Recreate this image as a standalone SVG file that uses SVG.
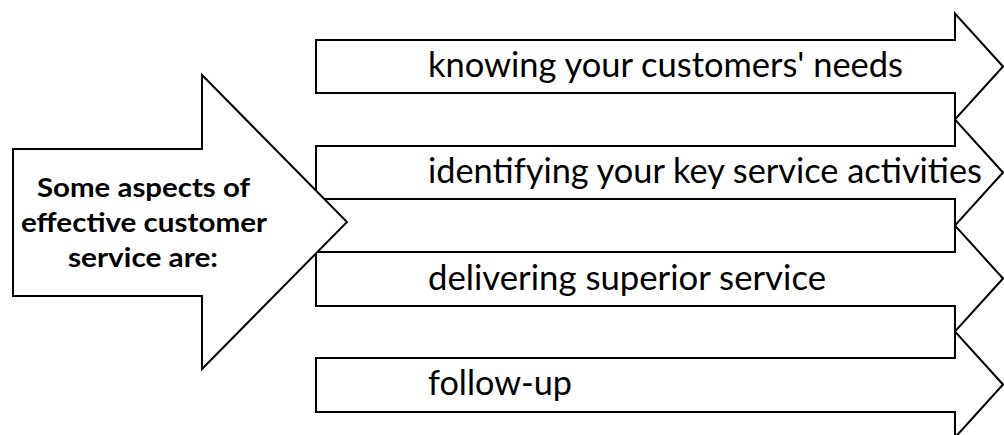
<svg xmlns="http://www.w3.org/2000/svg" width="1004" height="435" viewBox="0 0 1004 435">
  <style>
    .arrow { fill: #ffffff; stroke: #000000; stroke-width: 2; stroke-linejoin: miter; }
    .item { font-family: Lato, "Open Sans", "Liberation Sans", sans-serif; font-size: 34px; fill: #000000; }
    .lead { font-family: Lato, "Open Sans", "Liberation Sans", sans-serif; font-size: 27px; font-weight: bold; fill: #000000; text-anchor: middle; }
  </style>
  <rect width="1004" height="435" fill="#ffffff"/>

  <!-- four block arrows, stacked so their heads meet at x=955 -->
  <g id="item-needs">
    <path class="arrow" d="M316,40 H955 V13.5 L1003,66.5 L955,119.5 V93 H316 Z"/>
    <text class="item" x="428" y="77" textLength="475" lengthAdjust="spacingAndGlyphs">knowing your customers' needs</text>
  </g>
  <g id="item-activities">
    <path class="arrow" d="M316,146 H955 V119.5 L1003,172.5 L955,225.5 V199 H316 Z"/>
    <text class="item" x="428" y="183" textLength="554" lengthAdjust="spacingAndGlyphs">identifying your key service activities</text>
  </g>
  <g id="item-delivering">
    <path class="arrow" d="M316,252 H955 V225.5 L1003,278.5 L955,331.5 V306 H316 Z"/>
    <text class="item" x="428" y="290" textLength="398" lengthAdjust="spacingAndGlyphs">delivering superior service</text>
  </g>
  <g id="item-followup">
    <path class="arrow" d="M316,358 H955 V331.5 L1003,384.5 L955,437.5 V412 H316 Z"/>
    <text class="item" x="428" y="395" textLength="144" lengthAdjust="spacingAndGlyphs">follow-up</text>
  </g>

  <!-- large lead arrow, drawn last so it sits over the shafts -->
  <g id="lead">
    <path class="arrow" d="M13,149 H202 V75 L347,222 L202,369 V296 H13 Z"/>
    <text class="lead" x="143.5" y="197" textLength="213" lengthAdjust="spacingAndGlyphs">Some aspects of</text>
    <text class="lead" x="144" y="232" textLength="246" lengthAdjust="spacingAndGlyphs">effective customer</text>
    <text class="lead" x="143" y="267" textLength="150" lengthAdjust="spacingAndGlyphs">service are:</text>
  </g>
</svg>
